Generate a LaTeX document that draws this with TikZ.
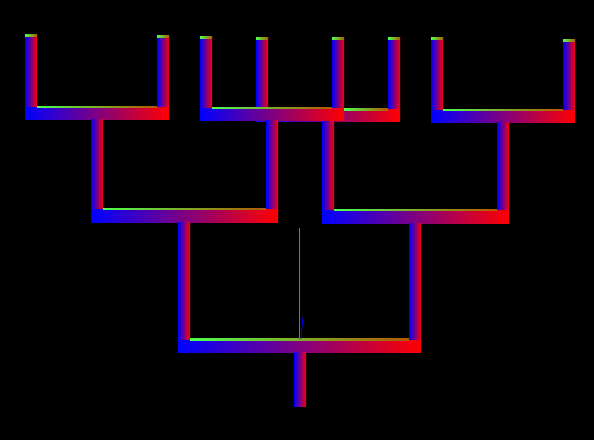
\documentclass[tikz,border=0pt]{standalone}
\usepackage{tikz}

\begin{document}
\begin{tikzpicture}[
    x=1pt, y=-1pt,
    bar/.style={left color=blue, right color=red, draw=none},
    rim/.style={left color=green!70!white, right color=orange!70!black, draw=none}
  ]
    % background
    \fill[black] (0,0) rectangle (594,440);
    \useasboundingbox (0,0) rectangle (594,440);

    % leaves
    \foreach \x/\top/\bot in {25/34/108, 157/35/108, 200/36/109, 256/37/109,
                              332/37/110, 388/37/110, 431/37/111, 563/39/112} {
      \shade[bar] (\x,\top) rectangle ++(12,\bot-\top);
      \shade[rim] (\x,\top) rectangle ++(12,2.5);
    }

    % first level joins
    \shade[bar] (256,109) rectangle (400,121);
    \shade[bar] (25,107) rectangle (169,119);
    \shade[bar] (200,108) rectangle (344,120);
    \shade[bar] (431,110) rectangle (575,122);
    \shade[rim] (37,106) rectangle (157,107.5);
    \shade[rim] (212,107) rectangle (332,108.5);
    \shade[rim] (344,108.5) rectangle (388,110);
    \shade[rim] (443,109) rectangle (563,110.5);

    % stems to second level
    \foreach \x/\top/\bot in {91/119/210, 266/120/211, 322/121/212, 497/122/212}
      \shade[bar] (\x,\top) rectangle (\x+12,\bot);

    % second level joins
    \shade[bar] (91,209) rectangle (278,222);
    \shade[bar] (322,210) rectangle (509,223);
    \shade[rim] (103,208) rectangle (266,209.5);
    \shade[rim] (334,209) rectangle (497,210.5);

    % stems to root
    \shade[bar] (178,222) rectangle (190,341);
    \shade[bar] (409,223) rectangle (421,342);

    % root join and trunk
    \shade[bar] (178,340) rectangle (421,352);
    \shade[rim] (190,338.5) rectangle (409,340);
    \shade[bar] (294,352) rectangle (306,406);

    % thin marks
    \draw[green!80!black, line width=0.8pt] (299,228) -- (299,340);
    \draw[blue, line width=0.8pt] (303,317) -- (302,327) -- (301,339);
  \end{tikzpicture}
\end{document}
